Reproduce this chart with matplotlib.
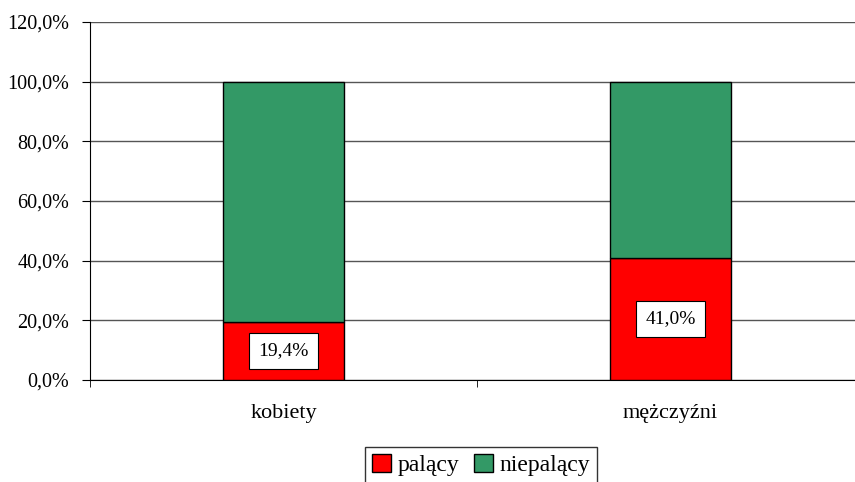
import matplotlib.pyplot as plt
from matplotlib.ticker import FuncFormatter

plt.rcParams['font.family'] = ['Liberation Serif', 'DejaVu Serif']

groups = ['kobiety', 'mężczyźni']
smokers = [19.4, 41.0]
non_smokers = [100 - v for v in smokers]
series_names = ['palący', 'niepalący']
colors = ['#ff0000', '#339966']

fig = plt.figure(figsize=(8.55, 4.82), dpi=100)
ax = fig.add_axes([90 / 855, 1 - 380 / 482, 774 / 855, 358 / 482])

x = list(range(len(groups)))
w = 0.315
b1 = ax.bar(x, smokers, w, color=colors[0], edgecolor='black', linewidth=1, label=series_names[0], zorder=3)
b2 = ax.bar(x, non_smokers, w, bottom=smokers, color=colors[1], edgecolor='black', linewidth=1,
            label=series_names[1], zorder=3)

for xi, v in zip(x, smokers):
    ax.text(xi, v / 2, f'{v:.1f}%'.replace('.', ','), ha='center', va='center', fontsize=14, zorder=4,
            bbox=dict(boxstyle='square,pad=0.5', facecolor='white', edgecolor='black', linewidth=0.8))

ax.set_xlim(-0.5, len(groups) - 0.5)
ax.set_ylim(0, 120)
ax.set_yticks(range(0, 121, 20))
ax.yaxis.set_major_formatter(FuncFormatter(lambda v, p: f'{v:.1f}%'.replace('.', ',')))
ax.set_xticks(x)
ax.set_xticklabels(groups)
ax.set_xticks([-0.5, 0.5, 1.5], minor=True)
ax.tick_params(axis='x', which='major', length=0, pad=17, labelsize=16)
ax.tick_params(axis='x', which='minor', length=5, direction='out')
ax.tick_params(axis='y', length=6, direction='out', labelsize=14.5, pad=9)

ax.grid(axis='y', color='#555555', linewidth=1, zorder=0)
for s in ['top', 'right']:
    ax.spines[s].set_visible(False)
ax.spines['left'].set_color('black')
ax.spines['bottom'].set_color('black')

leg = fig.legend(handles=[b1, b2], loc='upper center', bbox_to_anchor=(481 / 855, 1 - 447 / 482), ncol=2,
                 frameon=True, fancybox=False, edgecolor='black', fontsize=17, handlelength=0.8,
                 handleheight=0.8, handletextpad=0.3, columnspacing=0.6, borderpad=0.3,
                 borderaxespad=0)
leg.get_frame().set_linewidth(1)

fig.savefig('out.png', dpi=100)
